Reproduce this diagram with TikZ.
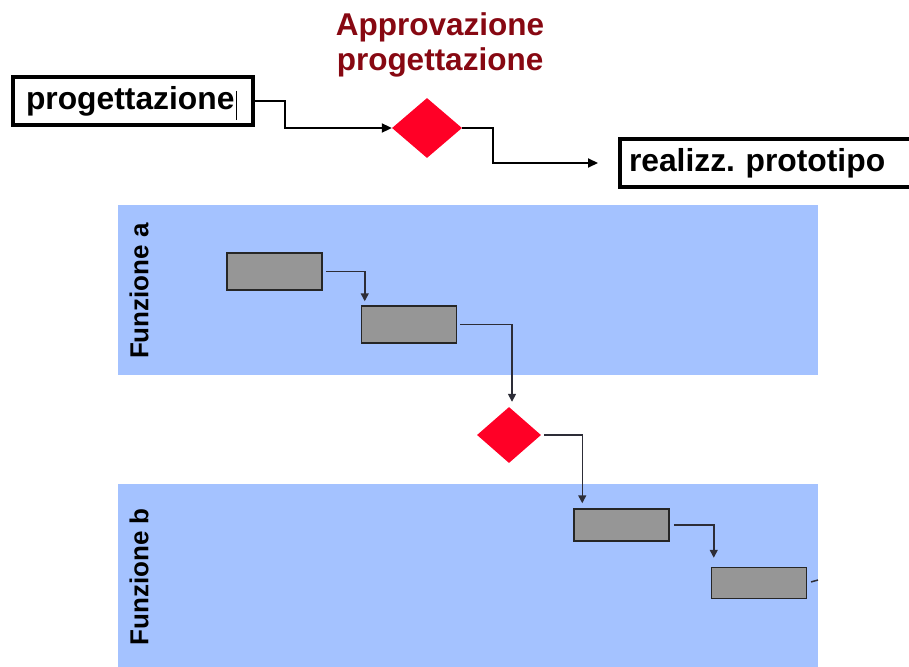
\documentclass[tikz,border=0pt]{standalone}
\usepackage{fontspec}
\setmainfont{Liberation Sans}
\usetikzlibrary{shapes.geometric,arrows.meta}
\definecolor{lane}{RGB}{164,194,255}
\definecolor{milestone}{RGB}{255,0,38}
\definecolor{titlered}{RGB}{135,8,18}
\definecolor{taskgray}{RGB}{150,150,150}
\definecolor{connline}{RGB}{45,45,55}
\tikzset{
  phasebox/.style={draw=black, line width=4pt, fill=white, inner ysep=0pt,
    font=\fontsize{31.8}{36}\selectfont\bfseries, align=left},
  milestonebox/.style={diamond, fill=milestone, inner sep=0pt},
  lanebox/.style={fill=lane, draw=none, inner sep=0pt, anchor=north west},
  lanelabel/.style={rotate=90, font=\fontsize{26}{29}\selectfont\bfseries},
  taskbox/.style={draw=black!85, fill=taskgray, line width=1.5pt, inner sep=0pt},
  topflow/.style={draw=black, line width=2pt,
    -{Triangle[length=10pt,width=9pt]}},
  laneflow/.style={draw=connline, line width=1.5pt,
    -{Triangle[length=8pt,width=8pt]}}
}
\begin{document}
\begin{tikzpicture}[x=1pt,y=-1pt]
\useasboundingbox (0,0) rectangle (909,666);

% milestone title
\node[font=\fontsize{31.5}{35}\selectfont\bfseries, text=titlered, align=center]
  (title) at (440,45) {Approvazione\\progettazione};

% top-level phases
\node[phasebox, text width=214pt, inner xsep=13pt, minimum height=48pt]
  (proj) at (133,101) {progettazione};
\draw[line width=1pt] (236,91) -- (236,120);
\node[milestonebox, minimum width=70pt, minimum height=60pt] (d1) at (427,128) {};
\node[phasebox, text width=300pt, inner xsep=9pt, minimum height=48pt, anchor=west]
  (real) at (618,163) {realizz.\ prototipo};

\draw[topflow] (proj.east) -- ++(30,0) |- (d1.west);
\draw[topflow, shorten >=20pt] (d1.east) -- ++(31,0) |- (real.west);

% swim lanes
\node[lanebox, minimum width=700pt, minimum height=170pt] (laneA) at (118,205) {};
\node[lanebox, minimum width=700pt, minimum height=190pt] (laneB) at (118,484) {};
\node[lanelabel] (labA) at (139,291) {Funzione a};
\node[lanelabel] (labB) at (139,577) {Funzione b};

% tasks
\node[taskbox, minimum width=95pt, minimum height=37pt] (a1) at (274.5,271.5) {};
\node[taskbox, minimum width=95pt, minimum height=37pt] (a2) at (409,324.5) {};
\node[milestonebox, minimum width=64pt, minimum height=56pt] (d2) at (509,435) {};
\node[taskbox, minimum width=95pt, minimum height=32pt] (b1) at (621.5,525) {};
\node[taskbox, minimum width=95pt, minimum height=31pt] (b2) at (759,583) {};
\coordinate (bout) at (818,580);

\draw[laneflow, shorten <=3pt, shorten >=4pt] (a1.east) -| ([xshift=4pt]a2.north west);
\draw[laneflow, shorten <=3pt, shorten >=5pt] (a2.east) -| ([xshift=3pt]d2.north);
\draw[laneflow, shorten <=3pt, shorten >=5pt] (d2.east) -| ([xshift=9pt]b1.north west);
\draw[laneflow, shorten <=4pt, shorten >=9pt] (b1.east) -| ([xshift=3pt]b2.north west);
\draw[draw=connline, line width=1.5pt, shorten <=4pt] (b2.east) -- (bout);
\end{tikzpicture}
\end{document}
